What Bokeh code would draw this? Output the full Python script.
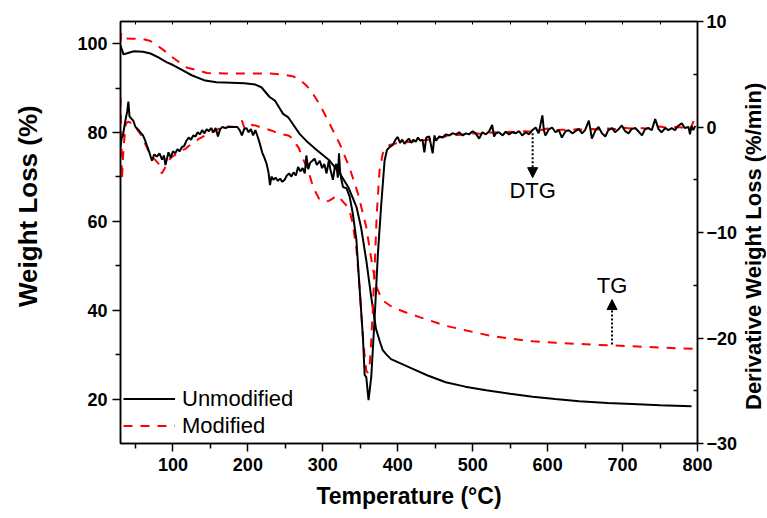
import math
from bokeh.plotting import figure
from bokeh.layouts import row
from bokeh.models import (Range1d, LinearAxis, FixedTicker, Legend, LegendItem,
                          Label, Arrow, NormalHead, Div)
from bokeh.embed import file_html
from bokeh.resources import INLINE

FONT = "Liberation Sans"

# ---------------- data ----------------
tg_unmod_T = [30, 34, 40, 48, 60, 70, 80, 92, 100, 112, 125, 143, 158, 178, 195, 210, 218,
              229, 236, 247, 254, 269, 280, 291, 309, 323, 334, 345, 351, 358, 365, 371,
              376, 380, 385, 391, 400, 420, 440, 464, 490, 518, 550, 580, 610, 642, 680,
              713, 750, 792]
tg_unmod_W = [99.6, 97.6, 97.9, 98.3, 98.2, 97.8, 97.0, 95.8, 95.2, 94.1, 92.9, 91.7, 91.3,
              91.2, 91.1, 90.8, 90.2, 88.0, 87.2, 84.2, 83.4, 79.7, 77.8, 76.2, 73.7, 70.7,
              67.7, 63.2, 58.7, 51.2, 42.5, 35.8, 33.0, 31.0, 30.0, 29.0, 28.3, 26.8, 25.3,
              23.8, 22.8, 22.0, 21.2, 20.5, 20.0, 19.5, 19.1, 18.9, 18.6, 18.4]

tg_mod_T = [30, 31, 33, 45, 58, 70, 76, 88, 97, 112, 119, 138, 145, 170, 200, 230, 245, 261,
            270, 278, 285, 296, 309, 323, 336, 347, 358, 365, 371, 376, 380, 390, 400, 411,
            430, 464, 490, 522, 550, 580, 610, 642, 680, 713, 750, 795]
tg_mod_W = [100.5, 102.3, 101.2, 101.1, 101.1, 100.6, 100.0, 98.5, 97.2, 95.4, 94.6, 93.8,
            93.4, 93.3, 93.3, 93.3, 93.1, 92.6, 91.8, 90.6, 89.2, 86.3, 82.0, 77.3, 71.9,
            66.2, 58.7, 51.2, 45.5, 43.5, 42.2, 41.0, 40.2, 39.5, 38.4, 36.5, 35.5, 34.3,
            33.6, 33.0, 32.7, 32.4, 32.1, 31.9, 31.6, 31.3]

dtg_unmod_T = [30, 31.5, 33, 36.5, 39, 40.5, 42, 44.5, 47, 50, 53, 56.5, 60, 63, 67.5, 72, 75,
               78.5, 82, 85.5, 88, 90, 92, 94, 97, 100, 103, 106, 109, 112, 115, 118, 121,
               124, 127, 130, 133, 136, 139, 142, 145, 148, 151, 154, 157, 160, 163, 166,
               170, 174, 178, 182, 186, 189, 192, 195, 198, 201, 204, 207, 210, 213, 216,
               219, 222, 225, 227.5, 229.5, 231.5, 234, 237, 240, 243, 246, 249, 252, 255,
               258, 261, 264, 267, 270, 273, 276, 278, 280.5, 283, 286, 289, 292, 296, 299,
               302, 305, 308, 310, 313.5, 316, 318, 320, 321.6, 323, 324.8, 327, 331.5,
               335.8, 340, 344.8, 349, 353.5, 355.8, 358, 361, 364.6, 369, 373.5, 378,
               382.4, 385.5, 389, 393.5, 397, 400, 403, 406, 409, 412, 415, 418, 421, 424,
               427, 430,
               433, 435.5, 438, 442, 446.6, 449, 451, 455.5, 460, 464, 469, 473, 478, 482,
               486.5, 491, 495, 500, 504, 508.6, 513, 517.5, 522, 526, 528.5, 531, 535,
               540, 544, 548.5, 553, 557, 562, 566, 571, 575, 579.5, 584, 588, 593, 595,
               597, 602, 606, 610.5, 615, 619, 624, 628, 633, 637, 641.5, 646, 650, 655,
               657, 659, 664, 668, 672.5, 677, 681, 686, 690, 695, 699, 703.5, 708, 712,
               717, 721, 726, 730, 734.5, 739, 743.5, 748, 752, 757, 761, 765.6, 770,
               774, 779, 783, 788, 790, 792, 794.4, 797]
dtg_unmod_D = [-1.9, -1.0, -0.9, 0.6, 1.5, 2.4, 1.0, 0.8, 0.6, 0.0, -0.2, -0.5, -0.8, -1.3,
               -2.2, -3.2, -2.6, -2.8, -2.5, -3.1, -2.7, -3.6, -3.0, -2.4, -2.9, -2.3, -2.5,
               -2.1, -2.3, -1.9, -1.8, -1.3, -1.0, -1.2, -0.8, -0.9, -0.5, -0.7, -0.3, -0.6,
               -0.2, -0.4, -0.1, -0.5, -0.1, -0.9, -0.2, 0.0, -0.1, 0.0, 0.0, 0.0, 0.0, -0.3,
               -0.8, -0.2, -0.1, -0.5, -0.2, -0.8, -0.3, -0.9, -1.6, -2.4, -2.9, -3.5, -4.3,
               -5.5, -4.7, -5.0, -4.8, -5.1, -4.9, -5.2, -5.0, -4.6, -4.4, -4.7, -4.3, -4.6,
               -3.8, -4.2, -3.9, -4.4, -2.7, -4.0, -3.4, -3.2, -3.0, -3.6, -3.2, -3.9, -3.5,
               -4.4, -3.2, -4.0, -5.0, -3.8, -3.5, -4.8, -2.5, -4.2, -5.0, -5.7, -5.8, -6.6,
               -8.2, -10.7, -15.2, -19.9, -23.5, -23.7, -25.9, -23.7, -18.3, -12.0, -7.3,
               -3.2, -2.2, -1.9, -1.7, -1.2, -0.95, -1.5, -1.2, -1.6, -1.3, -1.1, -1.5, -1.2,
               -1.4, -1.0, -1.3,
               -1.2, -2.4, -1.0, -0.9, -2.5, -0.8, -1.3, -0.9, -1.0, -0.7, -0.8, -0.6, -0.7,
               -0.5, -0.8, -0.6, -0.7, -0.4, -0.6, -1.1, -0.5, -0.7, -0.4, 0.2, -0.9, -0.6,
               -0.5, -0.8, -0.45, -0.7, -0.5, -0.6, -0.4, -0.8, -0.5, -0.7, -0.3, -0.05,
               -0.6, 1.1, -0.3, -0.8, -0.2, -0.05, -0.5, -0.3, -1.0, -0.4, -0.3, -0.6, -0.4,
               -0.2, -0.6, -0.3, 0.6, -0.2, -1.1, -0.3, 0.0, -0.6, -0.9, -0.3, -0.1, -0.5,
               -0.2, 0.15, -0.4, -0.6, -0.2, -0.1, -0.4, -0.8, -0.2, -0.1, -0.3, 0.75, -0.2,
               -0.5, -0.1, -0.3, -0.1, -0.3, 0.1, 0.35, -0.1, 0.0, -0.7, 0.1, -0.3, 0.1]

dtg_mod_T = [30, 31, 32, 34, 37, 40, 44, 47, 52, 57, 63, 67, 72, 76, 81, 85, 90, 94, 99, 104,
             108, 112, 116, 121, 125, 130, 135, 139, 145, 152, 158, 165, 174, 183, 188, 192,
             196, 200, 205, 210, 216, 223, 232, 240, 247, 254, 260, 265, 268, 272, 276, 280,
             285, 289, 295, 302, 308, 313, 318, 322, 326, 331, 336, 340, 345, 349, 353.5,
             356, 358, 360, 362.4, 364, 366, 369, 372, 375.7, 380, 385, 389, 395, 402, 410,
             420, 430, 440, 450, 460, 470, 480, 490, 500, 510, 520, 530, 540, 550, 560, 570,
             580, 590, 600, 610, 620, 630, 640, 650, 660, 670, 680, 690, 700, 710, 720, 730,
             740, 750, 760, 770, 780, 790, 795]
dtg_mod_D = [2.8, -0.5, -5.0, -2.0, 0.3, 0.5, 0.4, 0.4, -0.2, -0.7, -1.6, -2.2, -2.8, -3.1,
             -3.5, -4.4, -3.8, -3.2, -2.8, -2.6, -2.4, -2.2, -2.1, -1.8, -1.6, -1.4, -1.1,
             -0.95, -0.75, -0.5, -0.3, 0.0, 0.05, 0.0, 0.2, 0.6, -0.2, 0.1, 0.2, 0.15, 0.0,
             -0.15, -0.35, -0.6, -0.7, -0.8, -1.1, -1.7, -2.0, -2.8, -3.4, -4.0, -5.2, -6.0,
             -6.8, -7.1, -7.0, -6.8, -6.5, -6.7, -7.0, -7.4, -8.0, -9.2, -11.7, -15.2, -19.9,
             -21.8, -23.1, -23.3, -22.7, -21.0, -18.3, -13.6, -8.2, -4.1, -2.5, -2.0, -1.7,
             -1.6, -1.5, -1.45, -1.4, -1.3, -1.2, -1.05, -0.95, -0.8, -0.75, -0.7, -0.6,
             -0.65, -0.55, -0.5, -0.55, -0.45, -0.5, -0.4, -0.45, -0.3, -0.15, -0.3, -0.25,
             -0.3, -0.2, -0.3, -0.2, -0.25, -0.15, -0.2, -0.05, -0.15, -0.05, -0.15, -0.1,
             0.05, -0.1, 0.0, -0.05, -0.3, 0.6]

x_ticks = [100, 200, 300, 400, 500, 600, 700, 800]
x_minor = [50, 150, 250, 350, 450, 550, 650, 750]
left_ticks = [20, 40, 60, 80, 100]
left_minor = [30, 50, 70, 90]
right_ticks = [-30, -20, -10, 0, 10]
right_minor = [-25, -15, -5, 5]

series_labels = ["Unmodified", "Modified"]
x_title = "Temperature (°C)"
left_title = "Weight Loss (%)"
right_title = "Derivative Weight Loss (%/min)"

# annotation anchors (data units)
dtg_arrow = dict(x=580, y0=-0.6, y1=-4.8, label_y=-6.0)
tg_arrow = dict(x=686, y0=32.3, y1=42.4, label_y=45.6)

H = 515

# ---------------- figure ----------------
p = figure(width=684, height=H, x_range=Range1d(30, 800), y_range=Range1d(10, 105),
           output_backend="svg", toolbar_location=None,
           min_border_left=64, min_border_right=42, min_border_top=21,
           min_border_bottom=72)
p.extra_y_ranges = {"dtg": Range1d(-30, 10)}
p.xgrid.visible = False
p.ygrid.visible = False
p.outline_line_color = "black"
p.outline_line_width = 1.5
p.background_fill_color = "white"
p.border_fill_color = "white"

def style_axis(ax, tick_out=8, minor_out=5, minor_in=0, size="18px"):
    ax.axis_line_width = 1.5
    ax.major_tick_line_width = 1.5
    ax.minor_tick_line_width = 1.5
    ax.major_tick_out = tick_out
    ax.major_tick_in = 0
    ax.minor_tick_out = minor_out
    ax.minor_tick_in = minor_in
    ax.major_label_text_font = FONT
    ax.major_label_text_font_style = "bold"
    ax.major_label_text_font_size = size
    ax.major_label_text_color = "black"
    ax.axis_label_text_font = FONT
    ax.axis_label_text_font_style = "bold"
    ax.axis_label_text_color = "black"

# bottom
xa = p.xaxis[0]
xa.ticker = FixedTicker(ticks=x_ticks, minor_ticks=x_minor)
style_axis(xa)
xa.major_label_standoff = 6
xa.axis_label = x_title
xa.axis_label_text_font_size = "23px"
xa.axis_label_standoff = 9

# left
ya = p.yaxis[0]
ya.ticker = FixedTicker(ticks=left_ticks, minor_ticks=left_minor)
style_axis(ya)
ya.major_label_standoff = 5

# right
ra = LinearAxis(y_range_name="dtg", ticker=FixedTicker(ticks=right_ticks, minor_ticks=right_minor))
style_axis(ra, tick_out=6, minor_out=0, minor_in=4)
ra.major_label_standoff = 3
p.add_layout(ra, "right")

# top (ticks only)
ta = LinearAxis(ticker=FixedTicker(ticks=x_ticks, minor_ticks=x_minor))
ta.axis_line_width = 1.5
ta.major_tick_in = 3
ta.major_tick_out = 0
ta.minor_tick_in = 3
ta.minor_tick_out = 0
ta.major_tick_line_width = 1
ta.minor_tick_line_width = 1
ta.major_label_overrides = {t: "" for t in x_ticks}
ta.major_label_text_font_size = "1px"
ta.major_label_standoff = 0
p.add_layout(ta, "above")

# ---------------- curves ----------------
r_tg_u = p.line(tg_unmod_T, tg_unmod_W, line_color="black", line_width=2)
r_tg_m = p.line(tg_mod_T, tg_mod_W, line_color="#FF0000", line_width=2, line_dash="9 8")
r_d_m = p.line(dtg_mod_T, dtg_mod_D, line_color="#FF0000", line_width=2, line_dash="9 8",
               y_range_name="dtg")
r_d_u = p.line(dtg_unmod_T, dtg_unmod_D, line_color="black", line_width=2, y_range_name="dtg")

legend = Legend(items=[LegendItem(label=series_labels[0], renderers=[r_tg_u]),
                       LegendItem(label=series_labels[1], renderers=[r_tg_m])],
                location=(3, 4), border_line_color=None, background_fill_alpha=0,
                padding=0, margin=0, spacing=0, glyph_width=52, glyph_height=27,
                label_height=27, label_standoff=7, label_text_color="black",
                label_text_font=FONT, label_text_font_size="22px")
p.add_layout(legend)

# ---------------- annotations ----------------
p.add_layout(Arrow(end=NormalHead(size=10, line_color="black", fill_color="black", line_width=1),
                   x_start=dtg_arrow["x"], y_start=dtg_arrow["y0"],
                   x_end=dtg_arrow["x"], y_end=dtg_arrow["y1"],
                   line_dash="2 2", line_width=2, y_range_name="dtg"))
p.add_layout(Label(x=dtg_arrow["x"], y=dtg_arrow["label_y"], text="DTG", y_range_name="dtg",
                   text_align="center", text_baseline="middle", text_font=FONT,
                   text_font_size="22px", text_color="black"))
p.add_layout(Arrow(end=NormalHead(size=10, line_color="black", fill_color="black", line_width=1),
                   x_start=tg_arrow["x"], y_start=tg_arrow["y0"],
                   x_end=tg_arrow["x"], y_end=tg_arrow["y1"],
                   line_dash="2 2", line_width=2))
p.add_layout(Label(x=tg_arrow["x"], y=tg_arrow["label_y"], text="TG",
                   text_align="center", text_baseline="middle", text_font=FONT,
                   text_font_size="22px", text_color="black"))

# ---------------- vertical axis titles (reading bottom-to-top) ----------------
def vtitle(text, width, inner_h, size):
    html = (f'<div style="writing-mode: vertical-rl; transform: rotate(180deg); '
            f'width:{width}px; height:{inner_h}px; line-height:{width}px; text-align:center; '
            f"font-family:'{FONT}', Arial, sans-serif; font-weight:bold; font-size:{size}px; "
            f'color:black; white-space:nowrap;">{text}</div>')
    return Div(text=html, width=width, height=H, margin=0)

left_div = vtitle(left_title, 56, 412, 26)
right_div = vtitle(right_title, 27, 492, 22)

layout = row(left_div, p, right_div, spacing=0)

open("out.html", "w").write(file_html(layout, INLINE))
